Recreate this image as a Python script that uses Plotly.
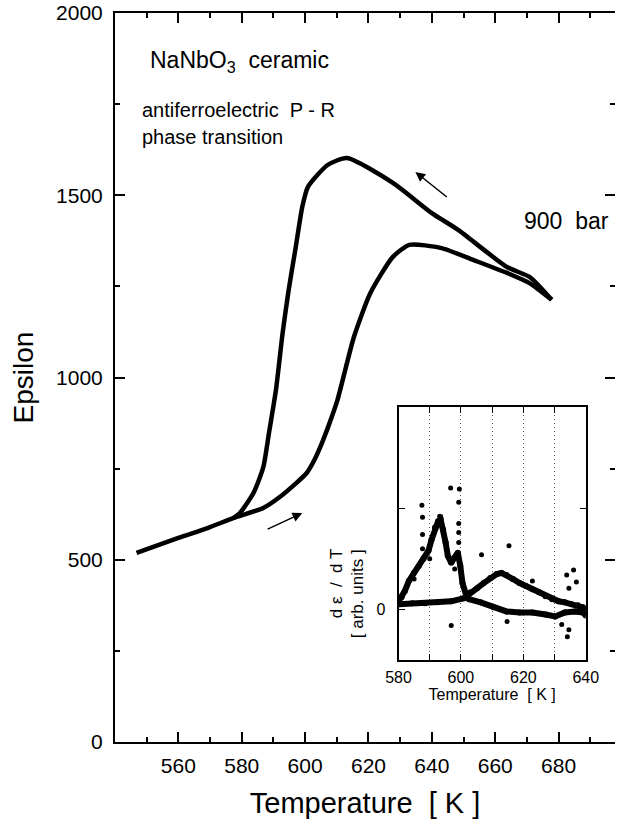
import plotly.graph_objects as go

# ---------------- main plot data (Epsilon vs Temperature) ----------------
heat_T = [546.8, 560.0, 569.2, 577.5, 586.8, 592.0, 596.9, 600.5, 603.0, 605.2, 607.5,
          610.2, 615.4, 620.6, 627.7, 632.9, 643.1, 653.2, 663.7, 670.8, 677.8]
heat_eps = [519, 560, 587, 615, 642, 672, 708, 738, 775, 818, 870,
            938, 1111, 1232, 1331, 1364, 1355, 1322, 1287, 1259, 1213]

cool_T = [677.8, 670.8, 663.7, 648.3, 640.0, 627.7, 613.2, 607.1, 600.9, 599.1, 596.9,
          594.8, 592.9, 590.8, 588.6, 586.8, 583.7, 579.4, 577.5]
cool_eps = [1213, 1276, 1303, 1405, 1451, 1534, 1602, 1583, 1523, 1468, 1350,
            1240, 1122, 966, 848, 754, 683, 628, 615]

x_ticks = [560, 580, 600, 620, 640, 660, 680]
x_minor = [550, 570, 590, 610, 630, 650, 670, 690]
y_ticks = [0, 500, 1000, 1500, 2000]
y_minor = [250, 750, 1250, 1750]

# ---------------- inset data (d eps / dT) ----------------
insA_T = [580.0, 581.0, 582.0, 583.3, 584.9, 586.5, 588.0, 589.6, 590.6, 591.7, 592.7,
          593.5, 594.3, 595.1, 595.8, 596.9, 597.9, 599.0, 599.8, 600.5, 601.6, 602.6,
          606.3, 610.4, 614.6, 618.8, 622.9, 627.1, 630.2, 633.3, 636.5, 639.1, 640.0]
insA_v = [0.08, 0.12, 0.18, 0.28, 0.36, 0.43, 0.50, 0.58, 0.69, 0.81, 0.87,
          0.89, 0.79, 0.66, 0.53, 0.46, 0.51, 0.56, 0.43, 0.26, 0.15, 0.10,
          0.07, 0.02, -0.02, -0.03, -0.03, -0.05, -0.07, -0.03, -0.02, -0.03, -0.06]

insB_T = [580.2, 584.4, 588.5, 592.7, 596.9, 601.0, 603.1, 605.2, 607.3, 609.4, 611.5,
          613.0, 614.6, 616.7, 618.8, 620.8, 622.9, 625.0, 627.1, 629.2, 631.3, 633.3,
          635.4, 637.5, 639.1, 640.0]
insB_v = [0.05, 0.06, 0.06, 0.07, 0.08, 0.11, 0.17, 0.21, 0.26, 0.31, 0.35,
          0.36, 0.34, 0.30, 0.26, 0.23, 0.20, 0.17, 0.13, 0.10, 0.08, 0.07,
          0.05, 0.04, 0.02, 0.00]

out_T = [587.5, 587.7, 587.7, 587.7, 596.7, 599.5, 599.3, 599.3, 599.3, 599.3, 606.6,
         615.4, 596.9, 614.8, 622.9, 632.3, 634.1, 634.6, 633.9, 636.1, 637.0, 634.6,
         593.2, 585.0, 590.0, 598.0]
out_v = [1.03, 0.91, 0.74, 0.60, 1.20, 1.19, 1.06, 0.85, 0.76, 0.66, 0.54,
         0.63, -0.16, -0.12, 0.28, -0.15, -0.27, -0.20, 0.34, 0.39, 0.27, 0.21,
         0.92, 0.30, 0.50, 0.40]

ins_x_ticks = [580, 600, 620, 640]
ins_x_minor = [590, 610, 630]
ins_y_ticks = [0]
ins_y_minor = [1]

FONT = "Liberation Sans, Arial, sans-serif"

fig = go.Figure()

line_style = dict(color="black", width=4.5, shape="spline", smoothing=0.6)
fig.add_trace(go.Scatter(x=heat_T, y=heat_eps, mode="lines", line=line_style,
                         showlegend=False, hoverinfo="skip"))
fig.add_trace(go.Scatter(x=cool_T, y=cool_eps, mode="lines", line=line_style,
                         showlegend=False, hoverinfo="skip"))
# dummy trace for the right-hand tick axis
fig.add_trace(go.Scatter(x=[None], y=[None], yaxis="y2", mode="lines",
                         showlegend=False, hoverinfo="skip"))

# inset traces
for T, v in ((insA_T, insA_v), (insB_T, insB_v)):
    fig.add_trace(go.Scatter(x=T, y=v, xaxis="x2", yaxis="y3", mode="lines+markers",
                             line=dict(color="black", width=6),
                             marker=dict(color="black", size=6),
                             showlegend=False, hoverinfo="skip"))
fig.add_trace(go.Scatter(x=out_T, y=out_v, xaxis="x2", yaxis="y3", mode="markers",
                         marker=dict(color="black", size=5),
                         showlegend=False, hoverinfo="skip"))

axis_common = dict(ticks="inside", tickcolor="black", tickwidth=1.5, ticklen=10,
                   showgrid=False, zeroline=False,
                   tickfont=dict(family=FONT, size=21, color="black"))

GRID = "#555555"

fig.update_layout(
    width=628, height=824,
    margin=dict(l=115, r=0, t=13, b=82),
    paper_bgcolor="white", plot_bgcolor="white",
    font=dict(family=FONT, color="black"),
    xaxis=dict(range=[540, 697.8], tickmode="array", tickvals=x_ticks,
               showline=True, linecolor="black", linewidth=2, mirror="ticks",
               minor=dict(tickmode="array", tickvals=x_minor, ticks="inside",
                          ticklen=5, tickwidth=1.5, tickcolor="black"),
               ticklabelstandoff=4,
               title=dict(text="Temperature  [ K ]", standoff=16,
                          font=dict(family=FONT, size=29, color="black")),
               domain=[0, 1], **axis_common),
    yaxis=dict(range=[0, 2000], tickmode="array", tickvals=y_ticks,
               showline=True, linecolor="black", linewidth=2, mirror=False,
               minor=dict(tickmode="array", tickvals=y_minor, ticks="inside",
                          ticklen=5, tickwidth=1.5, tickcolor="black"),
               ticklabelstandoff=6,
               title=dict(text="Epsilon", standoff=14,
                          font=dict(family=FONT, size=28, color="black")),
               domain=[0, 1], **axis_common),
    yaxis2=dict(range=[0, 2000], overlaying="y", side="right", anchor="x",
                tickmode="array", tickvals=y_ticks, showticklabels=False,
                showline=False,
                minor=dict(tickmode="array", tickvals=y_minor, ticks="inside",
                           ticklen=5, tickwidth=1.5, tickcolor="black"),
                ticks="inside", tickcolor="black", tickwidth=1.5, ticklen=10,
                showgrid=False, zeroline=False),
    xaxis2=dict(domain=[0.567, 0.9415], anchor="y3", range=[580, 640],
                tickmode="array", tickvals=ins_x_ticks,
                ticks="inside", ticklen=6, tickwidth=1.2, tickcolor="black",
                showline=True, linecolor="black", linewidth=2, mirror="ticks",
                showgrid=True, gridcolor=GRID, gridwidth=1, griddash="1px,3px",
                minor=dict(tickmode="array", tickvals=ins_x_minor, ticks="inside",
                           ticklen=6, tickwidth=1.2, tickcolor="black",
                           showgrid=True, gridcolor=GRID, gridwidth=1,
                           griddash="1px,3px"),
                zeroline=False, ticklabelstandoff=2,
                tickfont=dict(family=FONT, size=16, color="black"),
                title=dict(text="Temperature  [ K ]", standoff=2,
                           font=dict(family=FONT, size=16, color="black"))),
    yaxis3=dict(domain=[0.1125, 0.4595], anchor="x2", range=[-0.5, 2.0],
                tickmode="array", tickvals=ins_y_ticks,
                ticks="inside", ticklen=6, tickwidth=1.2, tickcolor="black",
                showline=True, linecolor="black", linewidth=2, mirror="ticks",
                minor=dict(tickmode="array", tickvals=ins_y_minor, ticks="inside",
                           ticklen=6, tickwidth=1.2, tickcolor="black"),
                showgrid=False, zeroline=False, ticklabelstandoff=8,
                tickfont=dict(family=FONT, size=16, color="black")),
)

annos = [
    dict(x=550.5, y=1866, text="NaNbO<sub>3</sub>  ceramic", size=23),
    dict(x=548.0, y=1735, text="antiferroelectric  P - R", size=20),
    dict(x=548.0, y=1660, text="phase transition", size=20),
    dict(x=668.5, y=1428, text="900  bar", size=23),
]
for a in annos:
    fig.add_annotation(x=a["x"], y=a["y"], xref="x", yref="y", text=a["text"],
                       showarrow=False, xanchor="left", yanchor="middle",
                       font=dict(family=FONT, size=a["size"], color="black"))

# inset y-axis label (two rotated lines)
fig.add_annotation(x=(342 - 115) / 513, y=(742 - 620) / 729, xref="paper", yref="paper",
                   text="d ε  /  d T", textangle=-90, showarrow=False,
                   font=dict(family=FONT, size=17, color="black"))
fig.add_annotation(x=(364 - 115) / 513, y=(742 - 640) / 729, xref="paper", yref="paper",
                   text="[ arb. units ]", textangle=-90, showarrow=False,
                   font=dict(family=FONT, size=17, color="black"))

# direction arrows
fig.add_annotation(x=599.1, y=628, ax=587.7, ay=582, xref="x", yref="y",
                   axref="x", ayref="y", text="", showarrow=True,
                   arrowhead=2, arrowsize=1.3, arrowwidth=1.5, arrowcolor="black")
fig.add_annotation(x=634.8, y=1564, ax=645.2, ay=1492, xref="x", yref="y",
                   axref="x", ayref="y", text="", showarrow=True,
                   arrowhead=2, arrowsize=1.3, arrowwidth=1.5, arrowcolor="black")

fig.write_html("out.html")
